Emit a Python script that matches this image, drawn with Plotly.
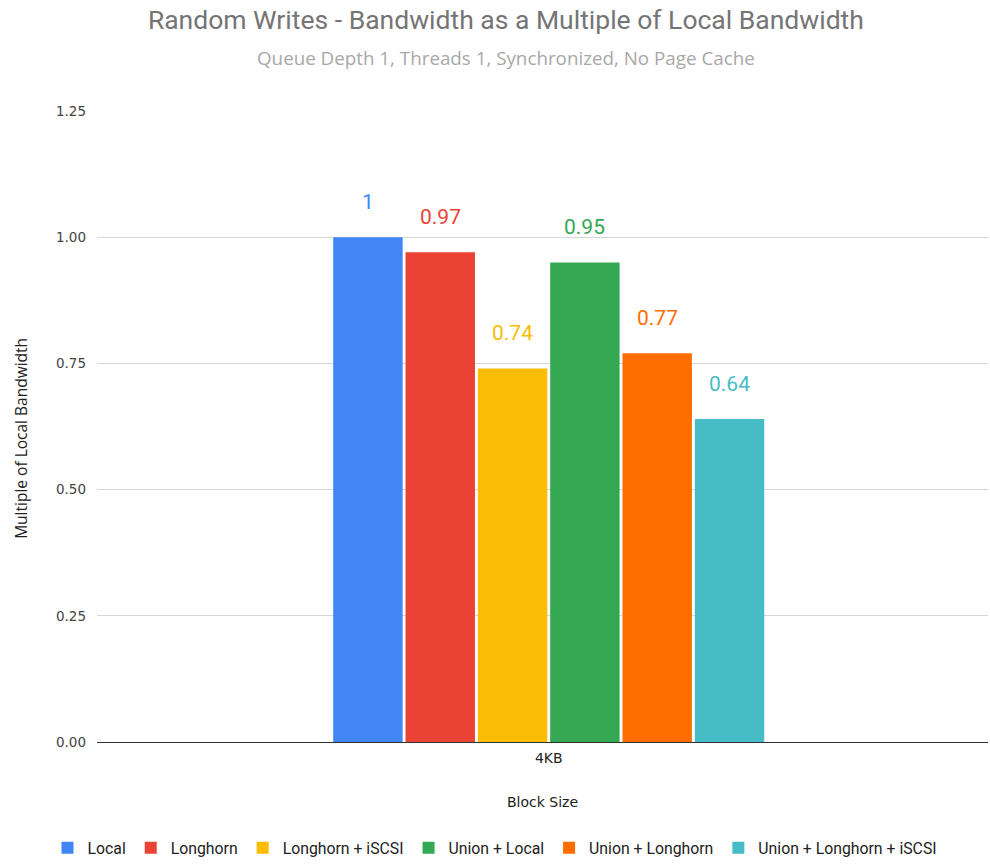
import plotly.graph_objects as go

categories = ["4KB"]
series_names = ["Local", "Longhorn", "Longhorn + iSCSI", "Union + Local", "Union + Longhorn", "Union + Longhorn + iSCSI"]
series_values = [[1.0], [0.97], [0.74], [0.95], [0.77], [0.64]]
series_labels = ["1", "0.97", "0.74", "0.95", "0.77", "0.64"]
colors = ["#4285F4", "#EA4335", "#FBBC04", "#34A853", "#FF6D01", "#46BDC6"]
y_ticks = [0, 0.25, 0.5, 0.75, 1.0, 1.25]
y_tick_text = ["0.00", "0.25", "0.50", "0.75", "1.00", "1.25"]

W, H = 990, 865
M_L, M_R, M_T, M_B = 97, 2, 111, 123
BARGAP = 0.513
X_RANGE = [-0.507, 0.493]

fig = go.Figure()
for name, vals, c in zip(series_names, series_values, colors):
    fig.add_trace(go.Bar(
        x=categories, y=vals, name=name, marker=dict(color=c, line=dict(width=0)),
        hoverinfo="skip",
    ))

# value labels above each bar (pixel shift follows the grouped-bar layout)
plot_w = W - M_L - M_R
px_per_unit = plot_w / (X_RANGE[1] - X_RANGE[0])
slot = (1 - BARGAP) * px_per_unit / len(series_names)
for i, (vals, lab, c) in enumerate(zip(series_values, series_labels, colors)):
    fig.add_annotation(x=categories[0], y=vals[0], text=lab, showarrow=False,
                       xanchor="center", yanchor="middle",
                       xshift=(i - (len(series_names) - 1) / 2) * slot, yshift=35,
                       font=dict(family="Roboto", size=21, color=c))

fig.update_layout(
    width=W, height=H,
    margin=dict(l=M_L, r=M_R, t=M_T, b=M_B),
    paper_bgcolor="white", plot_bgcolor="white",
    barmode="group", bargap=BARGAP, bargroupgap=0.04,
    title=dict(text="Random Writes - Bandwidth as a Multiple of Local Bandwidth",
               font=dict(family="Roboto", size=26.5, color="#757575"),
               x=0.511, xanchor="center", xref="container", y=0.977, yanchor="middle", yref="container"),
    font=dict(family="Roboto", color="#222"),
    showlegend=True,
    legend=dict(orientation="h", xref="container", yref="container", x=0.5, xanchor="center",
                y=-0.021, yanchor="bottom", font=dict(family="Roboto", size=15.8, color="#222"),
                itemwidth=30, traceorder="normal"),
)
fig.add_annotation(text="Queue Depth 1, Threads 1, Synchronized, No Page Cache",
                   xref="paper", yref="paper", x=0.459, y=1.084, xanchor="center", yanchor="middle",
                   showarrow=False, font=dict(family="Open Sans", size=18.8, color="#a8a8a8"))
# y-axis title (placed as rotated text to match the reference position)
fig.add_annotation(text="Multiple of Local Bandwidth", textangle=-90,
                   xref="paper", yref="paper", x=-0.0853, y=0.482, xanchor="center", yanchor="middle",
                   showarrow=False, font=dict(family="Open Sans", size=15.5, color="#222"))
fig.update_yaxes(range=[0, 1.25], tickvals=y_ticks, ticktext=y_tick_text,
                 showgrid=True, gridcolor="#d6d6d6", gridwidth=1,
                 zeroline=True, zerolinecolor="#333333", zerolinewidth=1,
                 tickfont=dict(family="DejaVu Sans", size=13.5, color="#444"),
                 ticks="", ticklabelstandoff=10)
fig.update_xaxes(range=X_RANGE, tickfont=dict(family="DejaVu Sans", size=14, color="#222"),
                 ticks="", showline=False, ticklabelstandoff=6,
                 title=dict(text="Block Size", standoff=32,
                            font=dict(family="DejaVu Sans", size=14, color="#222")))

fig.write_html("out.html")
